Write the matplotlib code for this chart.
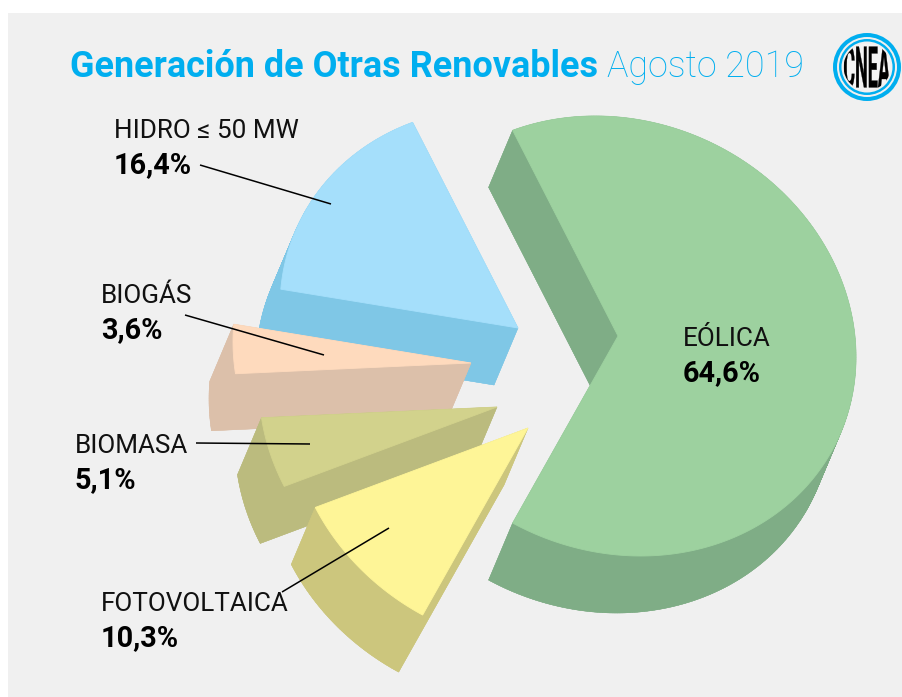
import numpy as np
import matplotlib
matplotlib.use("Agg")
import matplotlib.pyplot as plt
from matplotlib.patches import Polygon, Rectangle, Circle, PathPatch
from matplotlib.textpath import TextPath
from matplotlib.font_manager import FontProperties
from matplotlib.transforms import Affine2D

categories = ["EÓLICA", "HIDRO ≤ 50 MW", "BIOGÁS", "BIOMASA", "FOTOVOLTAICA"]
values = [64.6, 16.4, 3.6, 5.1, 10.3]
value_labels = ["64,6%", "16,4%", "3,6%", "5,1%", "10,3%"]
top_colors = ["#9dd19f", "#a5dffb", "#fedabd", "#d2d28c", "#fef597"]
side_colors = ["#7fad86", "#7fc7e6", "#dcc0aa", "#bbbb7e", "#ccc67d"]

# layout: slice apex after explosion, pixel coordinates
apexes = [(618, 336), (518, 328), (471, 363), (497, 407), (528, 428)]
draw_order = [1, 1, 3, 5, 7]
RX, RY, SHEAR = 238, 219, 21
DEPTH = (-24, 57)
label_pos = [(683, 339), (114, 131), (101, 296), (75, 446), (101, 604)]
leaders = [None, ((200, 165), (331, 204)), ((185, 315), (324, 355)),
           ((196, 443), (310, 444)), ((282, 592), (389, 528))]

FONT = "Roboto"
fig = plt.figure(figsize=(9.02, 6.97), dpi=100, facecolor="white")
ax = fig.add_axes([0, 0, 1, 1])
ax.set_xlim(0, 902)
ax.set_ylim(697, 0)
ax.axis("off")
ax.add_patch(Rectangle((8, 13), 894, 684, fc="#f0f0f0", ec="none", zorder=0))

start = -values[0] * 3.6 / 2
for i, (v, (ax_x, ax_y)) in enumerate(zip(values, apexes)):
    th = np.radians(np.linspace(start, start + v * 3.6, max(int(v * 6), 12)))
    start += v * 3.6
    x = ax_x + RX * np.cos(th)
    y = ax_y - RY * np.sin(th) + SHEAR * np.cos(th)
    top = np.column_stack([np.r_[ax_x, x], np.r_[ax_y, y]])
    order = draw_order[i]
    n = len(top)
    for k in range(n):
        a, b = top[k], top[(k + 1) % n]
        quad = [a, b, b + DEPTH, a + DEPTH]
        ax.add_patch(Polygon(quad, fc=side_colors[i], ec=side_colors[i], lw=0.3, zorder=order))
    ax.add_patch(Polygon(top + DEPTH, fc=side_colors[i], ec=side_colors[i], lw=0.3, zorder=order))
    ax.add_patch(Polygon(top, fc=top_colors[i], ec=top_colors[i], lw=0.6, zorder=order + 1))

for seg in leaders:
    if seg:
        ax.plot(*zip(*seg), color="black", lw=1.1, zorder=20, solid_capstyle="butt")

for (lx, ly), c, t in zip(label_pos, categories, value_labels):
    ax.text(lx, ly, c, fontsize=18.8, family=FONT, color="#111111", va="center", ha="left", zorder=21)
    ax.text(lx, ly + 34, t, fontsize=20.8, family=FONT, weight="bold", color="black", va="center", ha="left", zorder=21)

# title
ax.text(70, 67, "Generación de Otras Renovables", fontsize=25.9, family=FONT, weight="bold",
        color="#00aeef", va="center", ha="left")
ax.text(607, 67, "Agosto 2019", fontsize=25.8, family=FONT, weight="light",
        color="#00aeef", va="center", ha="left")

# logo
cx, cy = 867, 67
for r, col in [(34, "#00aeef"), (30, "#f0f0f0"), (28, "#00aeef"), (25.5, "#f0f0f0"), (23.5, "#f4f4f4")]:
    ax.add_patch(Circle((cx, cy), r, fc=col, ec="none", zorder=10))
tp = TextPath((0, 0), "CNEA", size=10, prop=FontProperties(family=FONT, weight="bold"))
bb = tp.get_extents()
tf = (Affine2D().translate(-bb.x0 - bb.width / 2, -bb.y0 - bb.height / 2)
      .scale(46 / bb.width, -42 / bb.height).translate(cx, cy))
logo = PathPatch(tp.transformed(tf), fc="black", ec="black", lw=0.2, zorder=11)
ax.add_patch(logo)
logo.set_clip_path(Circle((cx, cy), 23.5, transform=ax.transData))

fig.savefig("out.png", dpi=100)
